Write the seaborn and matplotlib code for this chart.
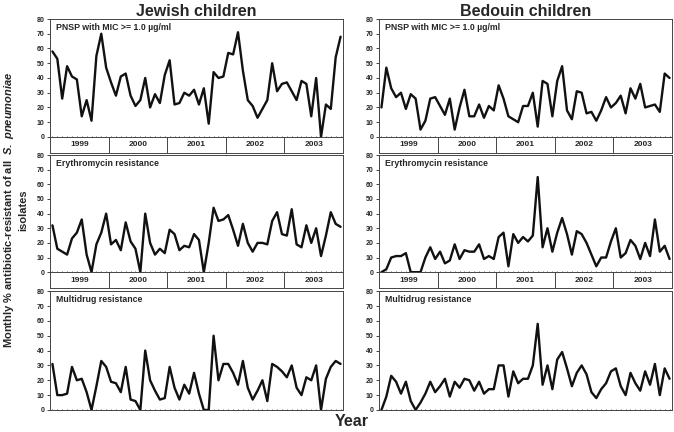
import numpy as np
import pandas as pd
import seaborn as sns
import matplotlib.pyplot as plt

sns.set_style("ticks")
plt.rcParams["font.family"] = ["Liberation Sans", "DejaVu Sans"]
plt.rcParams["mathtext.fontset"] = "custom"
plt.rcParams["mathtext.it"] = "Liberation Sans:bold:italic"
plt.rcParams["mathtext.rm"] = "Liberation Sans:bold"

years = ["1999", "2000", "2001", "2002", "2003"]
months = np.arange(60)

# monthly % resistant, Jan 1999 - Dec 2003
jew_pnsp = [58, 53, 26, 48, 41, 39, 14, 25, 11, 55, 70, 47, 37, 28, 41, 43, 28, 21, 25, 40,
            20, 29, 23, 42, 52, 22, 23, 30, 28, 32, 22, 33, 9, 44, 40, 41, 57, 56, 71, 45,
            25, 21, 13, 19, 25, 50, 31, 36, 37, 31, 25, 38, 36, 14, 40, 0, 22, 19, 54, 68]
bed_pnsp = [20, 47, 33, 27, 30, 19, 29, 26, 5, 11, 26, 27, 21, 15, 26, 5, 20, 32, 14, 14,
            22, 13, 21, 18, 35, 26, 14, 12, 10, 21, 21, 30, 7, 38, 36, 14, 38, 48, 18, 12,
            31, 30, 16, 17, 11, 18, 27, 20, 23, 28, 16, 33, 26, 36, 20, 21, 22, 17, 43, 40]
jew_ery = [32, 16, 14, 12, 23, 27, 36, 12, 0, 19, 27, 40, 19, 22, 15, 34, 21, 16, 0, 40,
           20, 12, 16, 13, 29, 26, 15, 18, 17, 26, 22, 0, 20, 44, 35, 36, 39, 29, 18, 33,
           20, 14, 20, 20, 19, 35, 41, 26, 25, 43, 19, 17, 32, 20, 30, 11, 25, 41, 33, 31]
bed_ery = [0, 2, 10, 11, 11, 13, 0, 0, 0, 10, 17, 9, 14, 6, 8, 19, 9, 15, 14, 14,
           19, 9, 11, 9, 24, 27, 4, 26, 20, 24, 21, 25, 65, 17, 30, 14, 27, 37, 26, 12,
           28, 26, 20, 12, 4, 10, 10, 21, 30, 10, 13, 22, 18, 9, 20, 11, 36, 14, 18, 9]
jew_multi = [31, 10, 10, 11, 29, 20, 21, 12, 0, 16, 33, 29, 19, 18, 12, 29, 7, 6, 0, 40,
             20, 13, 7, 8, 29, 15, 7, 17, 11, 25, 11, 0, 0, 50, 20, 31, 31, 25, 17, 33,
             15, 7, 13, 20, 6, 31, 29, 26, 22, 30, 15, 10, 22, 20, 30, 0, 21, 29, 33, 31]
bed_multi = [0, 9, 23, 19, 11, 19, 6, 0, 5, 11, 19, 12, 16, 21, 9, 19, 15, 21, 20, 13,
             19, 11, 14, 14, 30, 30, 9, 26, 18, 21, 21, 30, 58, 17, 30, 14, 34, 39, 28, 16,
             25, 30, 24, 12, 8, 14, 18, 26, 28, 16, 10, 25, 18, 13, 26, 17, 31, 10, 28, 21]

panel_labels = ["PNSP with MIC >= 1.0 \u00b5g/ml", "Erythromycin resistance", "Multidrug resistance"]
col_titles = ["Jewish children", "Bedouin children"]
series = [[jew_pnsp, bed_pnsp], [jew_ery, bed_ery], [jew_multi, bed_multi]]

fig = plt.figure(figsize=(6.74, 4.32), dpi=100)

lefts = [50 / 674, 379 / 674]
width = 293 / 674
rows = [(0.683, 0.273), (0.370, 0.271), (0.051, 0.275)]
band_h = 16 / 432
frame = "#444444"

for r, (bottom, height) in enumerate(rows):
    for c, left in enumerate(lefts):
        ax = fig.add_axes([left, bottom, width, height])
        df = pd.DataFrame({"month": months, "pct": series[r][c]})
        sns.lineplot(data=df, x="month", y="pct", ax=ax, color="#111111", lw=1.7)
        ax.set_xlim(-0.5, 59.5)
        ax.set_ylim(0, 80)
        ax.set_yticks(range(0, 81, 10))
        ax.set_xticks(months)
        ax.set_xticklabels([])
        ax.tick_params(axis="y", labelsize=5, length=2, width=0.6, pad=2)
        ax.tick_params(axis="x", length=1.0, width=0.5, direction="in")
        for lab in ax.get_yticklabels():
            lab.set_fontweight("bold")
        ax.set_xlabel("")
        ax.set_ylabel("")
        for s in ax.spines.values():
            s.set_linewidth(0.7)
            s.set_color(frame)
        ax.text(0.02, 0.965, panel_labels[r], transform=ax.transAxes,
                fontsize=6.3, fontweight="bold", va="top", ha="left")

        # year band under the upper panels
        if r < 2:
            band = fig.add_axes([left, bottom - band_h, width, band_h])
            band.set_xlim(-0.5, 59.5)
            band.set_ylim(0, 1)
            band.set_xticks([])
            band.set_yticks([])
            for s in band.spines.values():
                s.set_linewidth(0.7)
                s.set_color(frame)
            for k, yr in enumerate(years):
                band.text(k * 12 + 5.5, 0.5, yr, ha="center", va="center",
                          fontsize=6, fontweight="bold")
                if k > 0:
                    band.axvline(k * 12 - 0.5, color=frame, lw=0.7)

for c, left in enumerate(lefts):
    fig.text(left + width / 2, 1 - 11 / 432, col_titles[c], ha="center", va="center",
             fontsize=11.5, fontweight="bold")

fig.text(352 / 674, 1 - 421 / 432, "Year", ha="center", va="center",
         fontsize=11.5, fontweight="bold")
fig.text(15 / 674, 0.514,
         "Monthly % antibiotic-resistant of all  $\\mathit{S.\\ pneumoniae}$\nisolates",
         rotation=90, ha="center", va="center", multialignment="center",
         fontsize=8, fontweight="bold", linespacing=1.3)

fig.savefig("out.png", dpi=100)
